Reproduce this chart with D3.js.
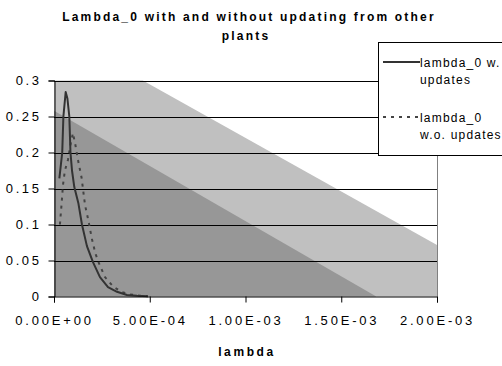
<!DOCTYPE html>
<html>
<head>
<meta charset="utf-8">
<script src="https://cdn.jsdelivr.net/npm/d3@7"></script>
<style>
  html, body { margin: 0; padding: 0; background: #ffffff; }
  svg { display: block; }
  text { font-family: "Liberation Sans", Arial, sans-serif; fill: #000; }
</style>
</head>
<body>
<svg id="chart" width="502" height="366"></svg>
<script>
// ---------- data ----------
const titleLines = ["Lambda_0 with and without updating from other", "plants"];
const xAxisTitle = "lambda";
const xTicks = [0, 0.0005, 0.001, 0.0015, 0.002];
const xTickLabels = ["0.00E+00", "5.00E-04", "1.00E-03", "1.50E-03", "2.00E-03"];
const yTicks = [0, 0.05, 0.1, 0.15, 0.2, 0.25, 0.3];
const yTickLabels = ["0", "0.05", "0.1", "0.15", "0.2", "0.25", "0.3"];
const seriesNames = ["lambda_0 w. updates", "lambda_0 w.o. updates"];

// series 1: with updates  [lambda, density]
const withUpdatesX = [2.8e-5, 4.3e-5, 4.9e-5, 6.1e-5, 7.0e-5, 8.0e-5, 8.6e-5, 9.4e-5, 1.06e-4, 1.27e-4, 1.46e-4, 1.72e-4, 2.03e-4, 2.40e-4, 2.82e-4, 3.29e-4, 3.81e-4, 4.33e-4, 4.90e-4];
const withUpdatesY = [0.164, 0.200, 0.250, 0.284, 0.275, 0.250, 0.200, 0.175, 0.152, 0.130, 0.100, 0.070, 0.048, 0.027, 0.013, 0.0065, 0.002, 0.001, 0.0005];

// series 2: without updates
const withoutUpdatesX = [3.1e-5, 4.0e-5, 4.7e-5, 5.7e-5, 7.3e-5, 8.9e-5, 9.9e-5, 1.12e-4, 1.25e-4, 1.44e-4, 1.62e-4, 1.80e-4, 1.98e-4, 2.16e-4, 2.32e-4, 2.66e-4, 3.10e-4, 3.55e-4, 3.96e-4, 4.49e-4, 4.90e-4];
const withoutUpdatesY = [0.100, 0.130, 0.155, 0.175, 0.190, 0.215, 0.227, 0.210, 0.190, 0.165, 0.127, 0.105, 0.080, 0.060, 0.048, 0.027, 0.0135, 0.006, 0.003, 0.0012, 0.0005];

// background shading bands (data units)
const lightBandX = [0, 0, 4.64e-4, 0.002, 0.002];
const lightBandY = [0, 0.3, 0.3, 0.0715, 0];
const darkBandX = [0, 0, 1.683e-3];
const darkBandY = [0, 0.258, 0];

// ---------- layout ----------
const svg = d3.select("#chart");
const plot = { left: 54, right: 437, top: 80.5, bottom: 296.5 };

const x = d3.scaleLinear().domain([0, 0.002]).range([plot.left, plot.right]);
const y = d3.scaleLinear().domain([0, 0.3]).range([plot.bottom, plot.top]);

const zip = (xs, ys) => xs.map((v, i) => [v, ys[i]]);
const line = d3.line().x(d => x(d[0])).y(d => y(d[1]));

// background bands
svg.append("path")
  .attr("d", line(zip(lightBandX, lightBandY)) + "Z")
  .attr("fill", "#c0c0c0");
svg.append("path")
  .attr("d", line(zip(darkBandX, darkBandY)) + "Z")
  .attr("fill", "#979797");

// gridlines
svg.append("g").selectAll("line")
  .data(yTicks.filter(d => d > 0))
  .join("line")
  .attr("x1", plot.left).attr("x2", plot.right)
  .attr("y1", d => Math.round(y(d)) + 0.5).attr("y2", d => Math.round(y(d)) + 0.5)
  .attr("stroke", "#000").attr("stroke-width", 1);

// right border
svg.append("line")
  .attr("x1", plot.right + 0.5).attr("x2", plot.right + 0.5)
  .attr("y1", plot.top).attr("y2", plot.bottom)
  .attr("stroke", "#808080").attr("stroke-width", 1);

// series
svg.append("path")
  .attr("d", line(zip(withoutUpdatesX, withoutUpdatesY)))
  .attr("fill", "none").attr("stroke", "#444").attr("stroke-width", 2)
  .attr("stroke-dasharray", "3,5");
svg.append("path")
  .attr("d", line(zip(withUpdatesX, withUpdatesY)))
  .attr("fill", "none").attr("stroke", "#333").attr("stroke-width", 2)
  .attr("stroke-linejoin", "round");

// axes
const yAxis = d3.axisLeft(y).tickValues(yTicks)
  .tickFormat((d, i) => yTickLabels[i]).tickSize(6).tickPadding(7);
const gy = svg.append("g").attr("transform", `translate(${plot.left + 0.5},0)`).call(yAxis);
gy.select(".domain").attr("stroke", "#000");
gy.selectAll(".tick line").attr("stroke", "#000");
gy.selectAll(".tick text")
  .attr("font-size", 13).attr("letter-spacing", "2.6px")
  .attr("font-family", "Liberation Sans, Arial, sans-serif").attr("fill", "#000");

const xAxis = d3.axisBottom(x).tickValues(xTicks)
  .tickFormat((d, i) => xTickLabels[i]).tickSize(6).tickPadding(13);
const gx = svg.append("g").attr("transform", `translate(0,${plot.bottom})`).call(xAxis);
gx.select(".domain").attr("stroke", "#000");
gx.selectAll(".tick line").attr("stroke", "#000");
gx.selectAll(".tick text")
  .attr("font-size", 13).attr("letter-spacing", "2.8px")
  .attr("font-family", "Liberation Sans, Arial, sans-serif").attr("fill", "#000");

// title
svg.append("text").attr("x", 249).attr("y", 21).attr("text-anchor", "middle")
  .attr("font-size", 12).attr("font-weight", "bold").attr("letter-spacing", "2.2px")
  .text(titleLines[0]);
svg.append("text").attr("x", 246).attr("y", 40).attr("text-anchor", "middle")
  .attr("font-size", 12).attr("font-weight", "bold").attr("letter-spacing", "2.2px")
  .text(titleLines[1]);

// x axis title
svg.append("text").attr("x", 247).attr("y", 356).attr("text-anchor", "middle")
  .attr("font-size", 12).attr("font-weight", "bold").attr("letter-spacing", "2.6px")
  .text(xAxisTitle);

// legend
const lg = svg.append("g");
lg.append("rect").attr("x", 378.5).attr("y", 42.5).attr("width", 140).attr("height", 113)
  .attr("fill", "#fff").attr("stroke", "#000").attr("stroke-width", 1);
lg.append("line").attr("x1", 383).attr("x2", 420).attr("y1", 62).attr("y2", 62)
  .attr("stroke", "#333").attr("stroke-width", 2);
lg.append("line").attr("x1", 383).attr("x2", 420).attr("y1", 117).attr("y2", 117)
  .attr("stroke", "#444").attr("stroke-width", 2).attr("stroke-dasharray", "3,5");
const legendText = [
  ["lambda_0 w.", "updates"],
  ["lambda_0", "w.o. updates"]
];
const legendRowY = [62, 117];
legendText.forEach((lines, i) => {
  lines.forEach((t, j) => {
    lg.append("text").attr("x", 420).attr("y", legendRowY[i] + 4.5 + j * 17)
      .attr("font-size", 12).attr("letter-spacing", "1.2px").text(t);
  });
});
</script>
</body>
</html>
